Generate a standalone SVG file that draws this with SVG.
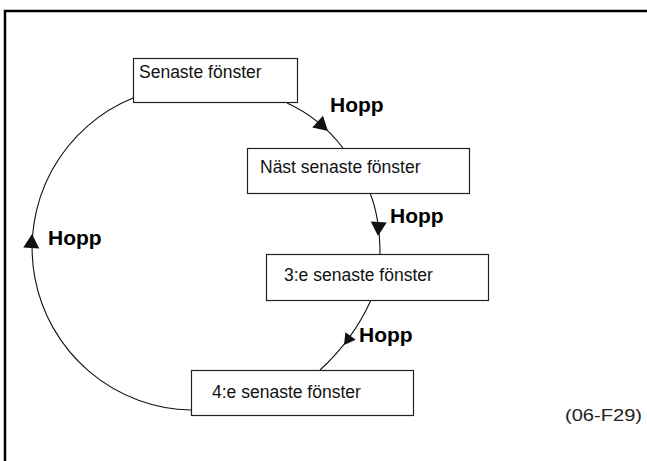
<svg xmlns="http://www.w3.org/2000/svg" xmlns:xlink="http://www.w3.org/1999/xlink" width="647" height="461" viewBox="0 0 647 461">
<style>
  .frame { stroke: #000; stroke-width: 2.5; fill: none; }
  .box { fill: #fff; stroke: #222; stroke-width: 1.2; }
  .lbl { font-family: "Liberation Sans", Arial, sans-serif; font-size: 17.5px; fill: #111; }
  .hop { font-family: "Liberation Sans", Arial, sans-serif; font-size: 21px; font-weight: bold; fill: #000; }
  .conn { fill: none; stroke: #111; stroke-width: 1.1; }
  .ah { fill: #111; }
  .ref { font-family: "Liberation Sans", Arial, sans-serif; font-size: 17px; fill: #222; }
</style>
<defs>
  <path id="ah" class="ah" d="M0,0 L-14,-8 L-14,8 Z"/>
</defs>
<rect width="647" height="461" fill="#fff"/>
<path class="frame" d="M5,461 L5,11 L647,11"/>

<g id="connectors">
  <path class="conn" d="M191,410 A162,162 0 0 1 133,98"/>
  <path class="conn" d="M287,103 Q320,118 343,148"/>
  <path class="conn" d="M370,193 Q380,218 380,254"/>
  <path class="conn" d="M371,300 Q353,340 320,370"/>
  <use href="#ah" transform="translate(32,234) rotate(-87)"/>
  <use href="#ah" transform="translate(328,131) rotate(42)"/>
  <use href="#ah" transform="translate(378,236) rotate(93)"/>
  <use href="#ah" transform="translate(344,345) rotate(126) scale(0.8)"/>
</g>

<g id="node1">
  <rect class="box" x="133.5" y="58.5" width="164" height="44"/>
  <text class="lbl" x="139" y="78">Senaste fönster</text>
</g>
<g id="node2">
  <rect class="box" x="247.5" y="148.5" width="222" height="45"/>
  <text class="lbl" x="260" y="173">Näst senaste fönster</text>
</g>
<g id="node3">
  <rect class="box" x="266.5" y="254.5" width="222" height="46"/>
  <text class="lbl" x="284" y="281">3:e senaste fönster</text>
</g>
<g id="node4">
  <rect class="box" x="191.5" y="370.5" width="222" height="45"/>
  <text class="lbl" x="212" y="398">4:e senaste fönster</text>
</g>

<g id="labels">
  <text class="hop" x="330" y="112">Hopp</text>
  <text class="hop" x="390" y="223">Hopp</text>
  <text class="hop" x="359" y="342">Hopp</text>
  <text class="hop" x="48" y="245">Hopp</text>
  <text class="ref" x="565" y="421" textLength="77" lengthAdjust="spacingAndGlyphs">(06-F29)</text>
</g>
</svg>
